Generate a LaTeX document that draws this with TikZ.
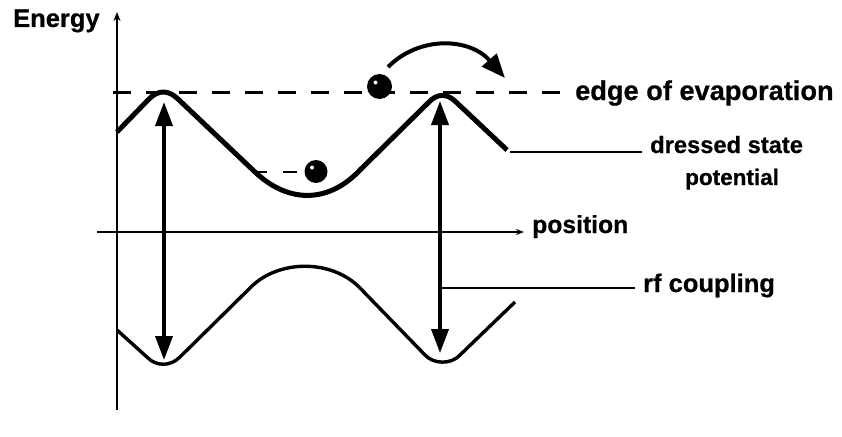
\documentclass[tikz,border=0pt]{standalone}
\usepackage{fontspec}
\setmainfont{Liberation Sans}
\newfontfamily\labfont{Liberation Sans}[BoldFeatures={FakeBold=0.6}]
\usetikzlibrary{arrows.meta}
\begin{document}
\begin{tikzpicture}[x=1pt,y=-1pt,
  lbl/.style={inner xsep=8pt, inner ysep=0pt, anchor=base west},
  fs/.style={font=\labfont\bfseries\fontsize{#1}{#1}\selectfont},
  axis/.style={line width=2.3pt},
  leader/.style={line width=2pt},
  ball/.style={circle, fill=black, inner sep=0pt, minimum size=#1},
  rfarrow/.style={line width=3.8pt, {Triangle[length=24pt,width=17pt]}-{Triangle[length=24pt,width=17pt]}},
  thickcurve/.style={line width=5pt, line join=round},
  thincurve/.style={line width=3.4pt, line join=round}
]
\useasboundingbox[fill=white] (0,0) rectangle (842,436);

% labels
\node[lbl, fs=25.5] (energy) at (5,27) {Energy};
\node[lbl, fs=27.2] (edge) at (567,100) {edge of evaporation};
\node[lbl, fs=23.7] (dressed) at (642,153) {dressed state};
\node[lbl, fs=22.5] (potential) at (677,185) {potential};
\node[lbl, fs=24.7] (position) at (524,233) {position};
\node[lbl, fs=25.5] (rf) at (635,292) {rf coupling};

% axes
\coordinate (vb) at (117,410);
\coordinate (vt) at (117,12);
\draw[axis, -{Stealth[length=9pt,width=7pt]}] (vb) -- (vt);
\coordinate (ha) at (97,232);
\draw[axis, line width=2pt, -{Stealth[length=8pt,width=6pt]}] (ha) -- (ha -| position.west);

% edge of evaporation dashed line
\coordinate (d1) at (113,92);
\coordinate (d2) at (562,92);
\draw[line width=3pt, dash pattern=on 18pt off 15pt] (d1) -- (d2);

% dressed state potential (upper curve)
\draw[thickcurve] (117,132) -- (148,100) .. controls (158,89.5) and (168,89.5) .. (178,99)
  -- (255,172) .. controls (290,205) and (330,202) .. (360,170)
  -- (428,103) .. controls (437,93) and (447,93) .. (456,102)
  -- (507,150);

% lower curve
\draw[thincurve] (117,330) -- (148,358) .. controls (156,366) and (170,367) .. (180,357)
  -- (250,288) .. controls (278,259) and (332,259) .. (360,288)
  -- (425,355) .. controls (433,364) and (451,365) .. (460,355)
  -- (515,302);

% rf coupling arrows
\coordinate (a1t) at (164,102);
\coordinate (a1b) at (164,360);
\coordinate (a2t) at (440,101);
\coordinate (a2b) at (440,353);
\draw[rfarrow] (a1t) -- (a1b);
\draw[rfarrow] (a2t) -- (a2b);

% leaders
\coordinate (dl) at (510,152);
\draw[leader] (dl) -- (dl -| dressed.west);
\coordinate (rl) at (442,288);
\draw[leader] (rl) -- (rl -| rf.west);

% trapped atom with short dashed level
\coordinate (s1) at (253,172);
\coordinate (s2) at (333,172);
\draw[line width=2.6pt, dash pattern=on 14pt off 16pt] (s1) -- (s2);
\node[ball=23pt] (b2) at (316,171.5) {};
\fill[white] ([shift={(-4,-4)}]b2.center) circle (2);

% escaping atom
\node[ball=25pt] (b1) at (379.5,86.5) {};
\fill[white] ([shift={(-4,-4)}]b1.center) circle (2);

% curved arrow
\coordinate (c1) at (388,67);
\coordinate (c2) at (505,78);
\draw[line width=4pt, -{Triangle[length=24pt,width=19pt]}] (c1) .. controls (420,35) and (470,38) .. (c2);
\end{tikzpicture}
\end{document}
